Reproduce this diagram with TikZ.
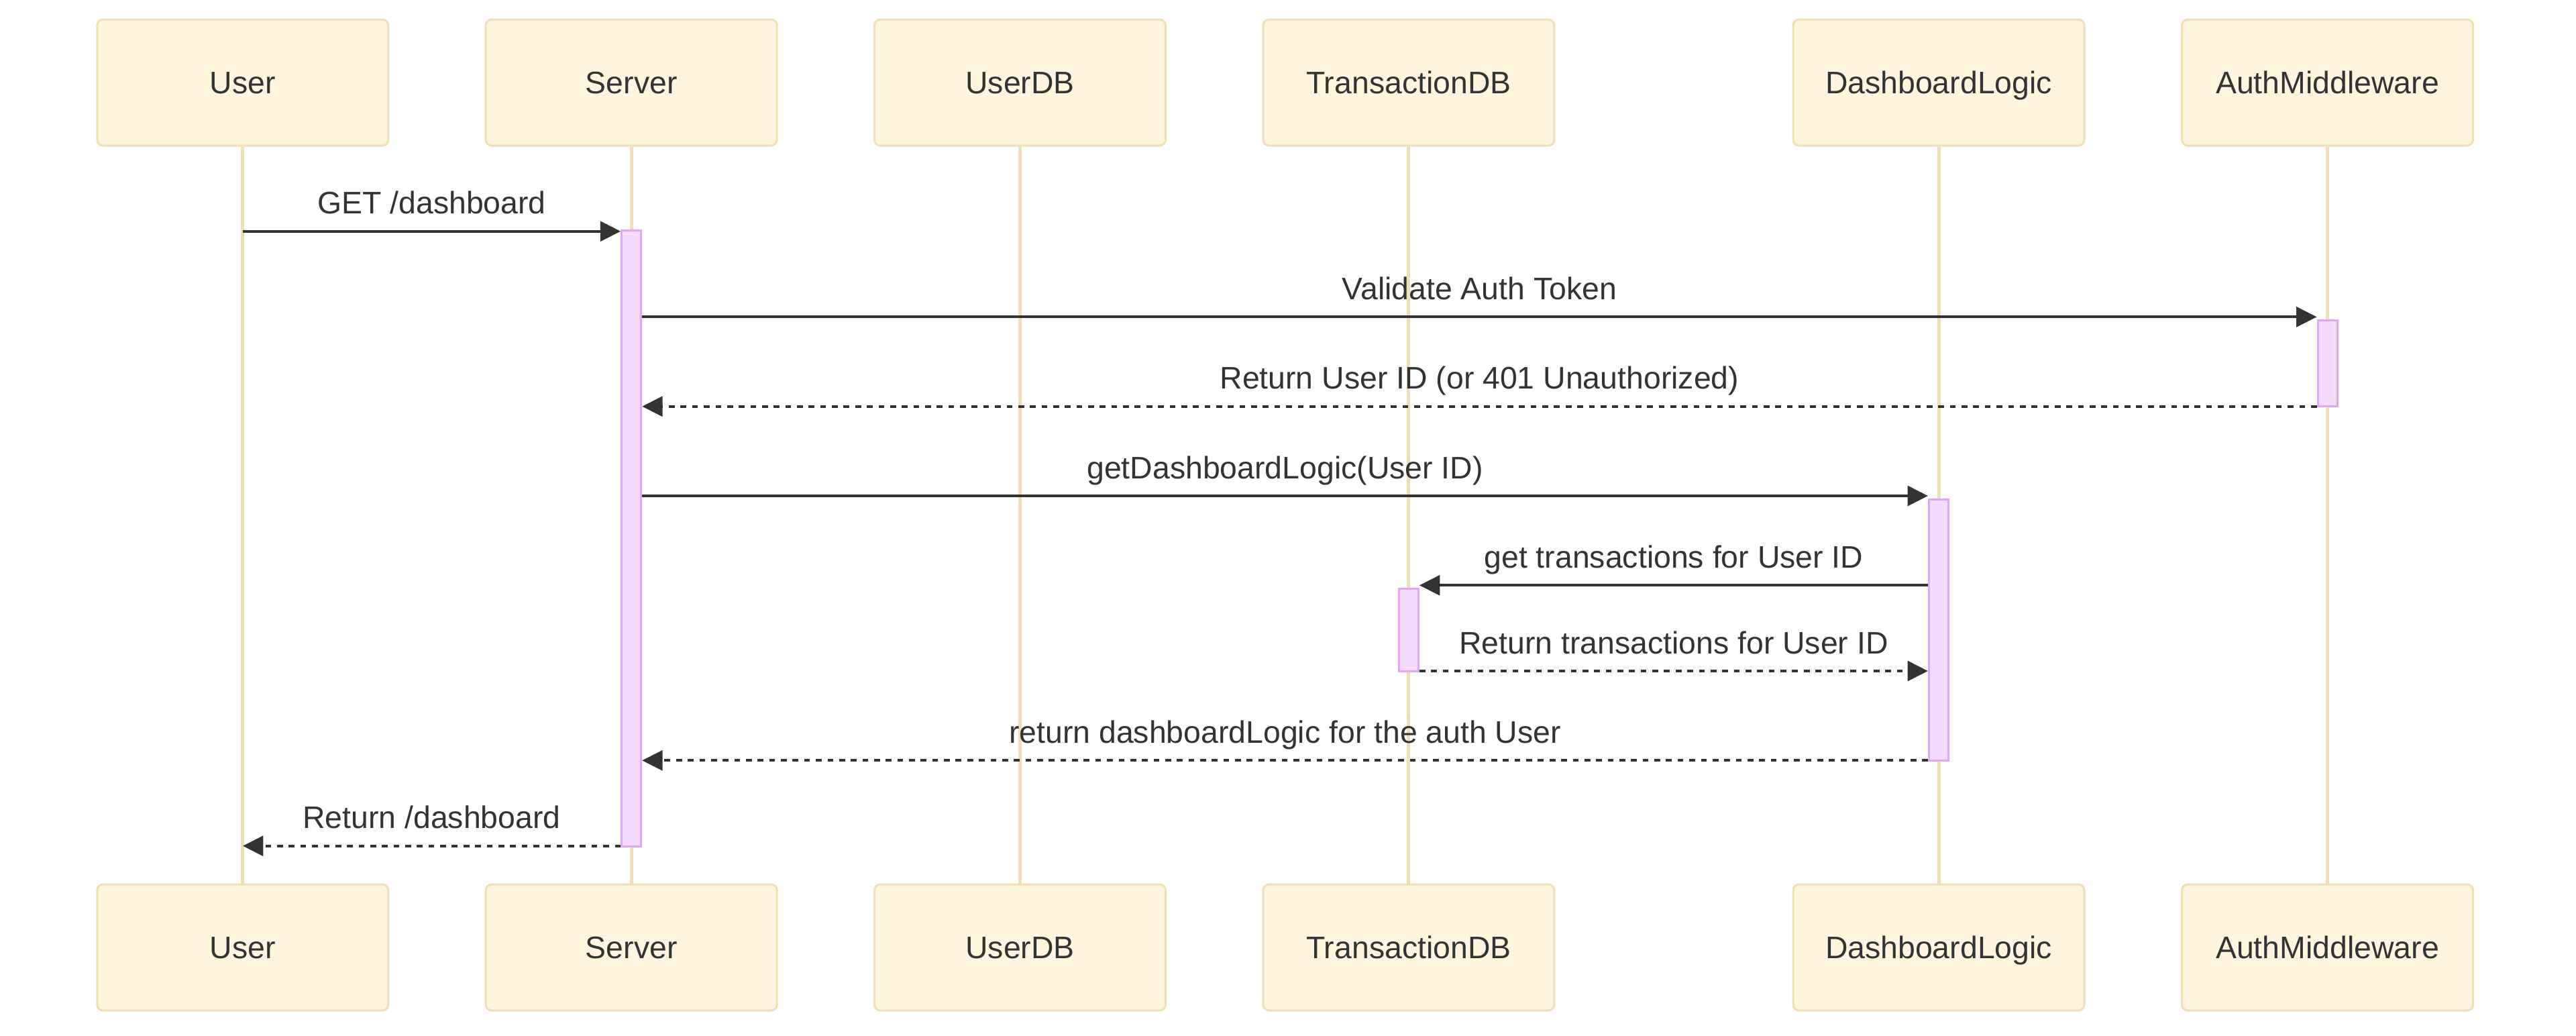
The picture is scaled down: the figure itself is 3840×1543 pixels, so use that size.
\documentclass[tikz,border=0pt]{standalone}
\usepackage{fontspec}
\setmainfont{Liberation Sans}
\usetikzlibrary{arrows.meta,calc}
\definecolor{actfill}{HTML}{FFF4DD}
\definecolor{actline}{HTML}{F0DEB5}
\definecolor{barfill}{HTML}{F4DCFE}
\definecolor{barline}{HTML}{E0A6F8}
\definecolor{ink}{HTML}{333333}
\begin{document}
\begin{tikzpicture}[x=0.25pt,y=-0.25pt,
  txt/.style={font=\fontsize{11.6pt}{14pt}\selectfont, text=ink},
  actor/.style={txt, draw=actline, fill=actfill, line width=0.75pt, rounded corners=2.2pt,
    minimum width=108.5pt, minimum height=47pt, text height=8.25pt, text depth=0pt, inner sep=0pt},
  life/.style={draw=actline, line width=1.25pt},
  bar/.style={draw=barline, fill=barfill, line width=0.75pt, minimum width=7.25pt, inner sep=0pt},
  msg/.style={draw=ink, line width=1.08pt, -{Triangle[length=7.6pt,width=7.4pt]}},
  reply/.style={msg, dash pattern=on 2.17pt off 2.17pt},
  lbl/.style={txt, anchor=base, inner sep=0pt, midway, yshift=6.5pt}]
\useasboundingbox (0,0) rectangle (3840,1543);
% actors
\node[actor] (uT) at (361.9,123) {User};
\node[actor] (sT) at (941.2,123) {Server};
\node[actor] (dbT) at (1520.5,123) {UserDB};
\node[actor] (tT) at (2099.9,123) {TransactionDB};
\node[actor] (dT) at (2890,123) {DashboardLogic};
\node[actor] (aT) at (3469.5,123) {AuthMiddleware};
\node[actor] (uB) at (361.9,1412) {User};
\node[actor] (sB) at (941.2,1412) {Server};
\node[actor] (dbB) at (1520.5,1412) {UserDB};
\node[actor] (tB) at (2099.9,1412) {TransactionDB};
\node[actor] (dB) at (2890,1412) {DashboardLogic};
\node[actor] (aB) at (3469.5,1412) {AuthMiddleware};
% lifelines
\foreach \a in {u,s,db,t,d,a} \draw[life] (\a T.south) -- (\a B.north);
% activations
\node[bar, minimum height=229.43pt] (aS) at (941.2,802.85) {};
\node[bar, minimum height=32pt] (aA) at (3469.5,541.7) {};
\node[bar, minimum height=97.25pt] (aD) at (2890,938.8) {};
\node[bar, minimum height=30.6pt] (aX) at (2099.9,938.85) {};
% message rows
\coordinate (m1) at (0,344.7);
\coordinate (m2) at (0,472.3);
\coordinate (m3) at (0,605.7);
\coordinate (m4) at (0,739);
\coordinate (m5) at (0,872.3);
\coordinate (m6) at (0,1000);
\coordinate (m7) at (0,1133.3);
\coordinate (m8) at (0,1260.7);
% messages
\draw[msg] (uT |- m1) -- node[lbl] (l1) {GET /dashboard} (aS.west |- m1);
\draw[msg] (aS.east |- m2) -- node[lbl] (l2) {Validate Auth Token} (aA.west |- m2);
\draw[reply] (aA.west |- m3) -- node[lbl] (l3) {Return User ID (or 401 Unauthorized)} (aS.east |- m3);
\draw[msg] (aS.east |- m4) -- node[lbl] (l4) {getDashboardLogic(User ID)} (aD.west |- m4);
\draw[msg] (aD.west |- m5) -- node[lbl] (l5) {get transactions for User ID} (aX.east |- m5);
\draw[reply] (aX.east |- m6) -- node[lbl] (l6) {Return transactions for User ID} (aD.west |- m6);
\draw[reply] (aD.west |- m7) -- node[lbl] (l7) {return dashboardLogic for the auth User} (aS.east |- m7);
\draw[reply] (aS.west |- m8) -- node[lbl] (l8) {Return /dashboard} (uT |- m8);
\end{tikzpicture}
\end{document}
